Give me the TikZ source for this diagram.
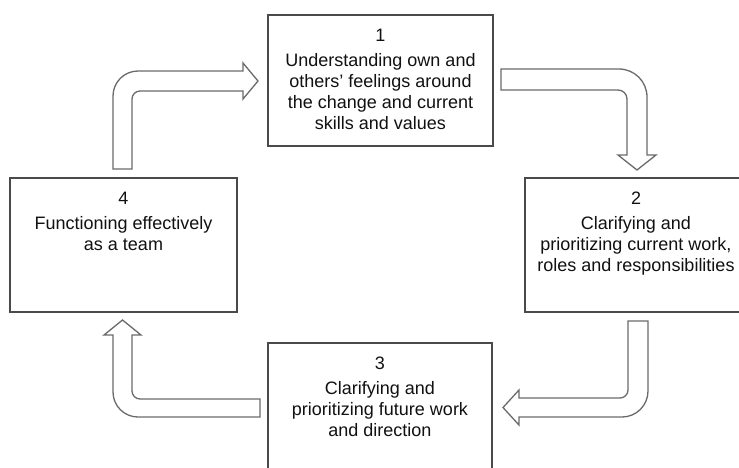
\documentclass[tikz,border=0pt]{standalone}
\usepackage{fontspec}
\setmainfont{Liberation Sans}
\definecolor{boxgray}{HTML}{4A4A4A}
\definecolor{arrowgray}{HTML}{6A6A6A}
\definecolor{textgray}{HTML}{111111}
\begin{document}
\begin{tikzpicture}[x=1pt,y=-1pt,
  stage/.style={draw=boxgray, line width=1.6pt, fill=white, anchor=north west,
    inner sep=0pt, outer sep=0pt},
  stagetext/.style={anchor=north, align=center, inner sep=0pt, text=textgray,
    font=\fontsize{18}{21}\selectfont},
  blockarrow/.style={draw=arrowgray, line width=1.3pt, fill=white, line join=miter}
]
\clip (0,0) rectangle (739,467);
\fill[white] (0,0) rectangle (739,467);

% the four stages of the cycle
\node[stage, minimum width=225pt, minimum height=131pt] (b1) at (268,15) {};
\node[stage, minimum width=222pt, minimum height=134pt] (b2) at (525,178) {};
\node[stage, minimum width=224pt, minimum height=140pt] (b3) at (268,343) {};
\node[stage, minimum width=227pt, minimum height=134pt] (b4) at (10,178) {};

\node[stagetext] (t1) at ([yshift=-14pt]b1.north)
  {1\\[4pt] Understanding own and\\ others' feelings around\\ the change and current\\ skills and values};
\node[stagetext] (t2) at ([yshift=-14pt]b2.north)
  {2\\[4pt] Clarifying and\\ prioritizing current work,\\ roles and responsibilities};
\node[stagetext] (t3) at ([yshift=-14pt]b3.north)
  {3\\[4pt] Clarifying and\\ prioritizing future work\\ and direction};
\node[stagetext] (t4) at ([yshift=-14pt]b4.north)
  {4\\[4pt] Functioning effectively\\ as a team};

% block arrows: 4 -> 1
\draw[blockarrow] (113,169) -- (113,96) .. controls (113,82.2) and (124.2,71) .. (138,71)
  -- (243,71) -- (243,63) -- (258,81) -- (243,99) -- (243,91) -- (140,91)
  .. controls (135.6,91) and (132,94.6) .. (132,99) -- (132,169) -- cycle;
% 1 -> 2
\draw[blockarrow] (501,69) -- (619,69) .. controls (634.5,69) and (647,81.5) .. (647,97)
  -- (647,155) -- (656,155) -- (637,170) -- (618,155) -- (627,155) -- (627,99)
  .. controls (627,94) and (623,90) .. (618,90) -- (501,90) -- cycle;
% 2 -> 3
\draw[blockarrow] (628,321) -- (648,321) -- (648,391)
  .. controls (648,405.4) and (636.4,417) .. (622,417)
  -- (519,417) -- (519,425) -- (503,407.5) -- (519,390) -- (519,398) -- (620,398)
  .. controls (624.4,398) and (628,394.4) .. (628,390) -- cycle;
% 3 -> 4
\draw[blockarrow] (260,399) -- (260,417) -- (138,417)
  .. controls (124.2,417) and (113,405.8) .. (113,392)
  -- (113,335) -- (104,335) -- (122.5,320) -- (141,335) -- (132,335) -- (132,391)
  .. controls (132,395.4) and (135.6,399) .. (140,399) -- cycle;
\end{tikzpicture}
\end{document}
